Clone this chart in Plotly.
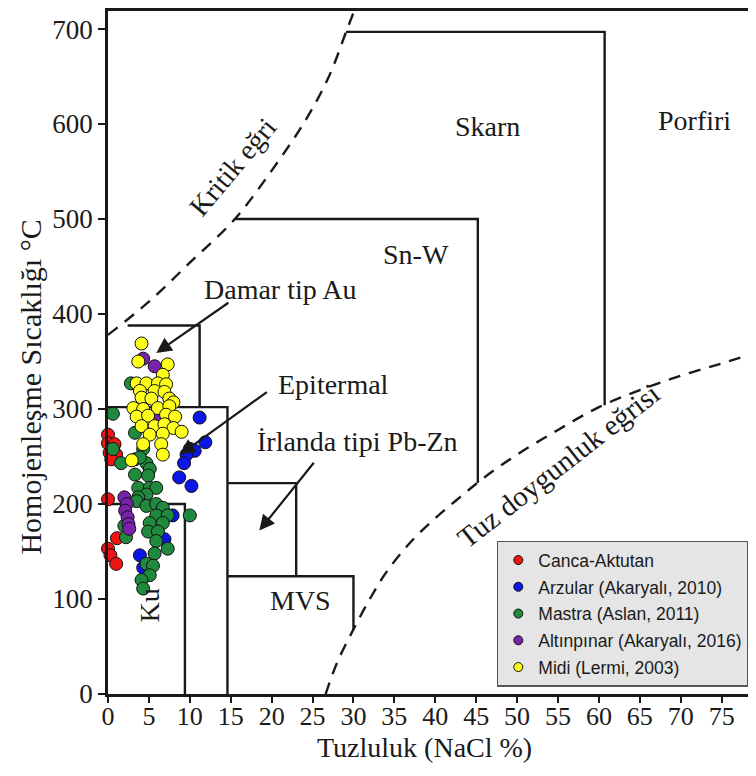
import plotly.graph_objects as go

# --- data (salinity wt% NaCl, homogenisation temperature C) ---
canca_x = [0.0, 0.0, 0.8, 0.2, 1.0, 0.4, 0.0, 1.1, 0.0, 0.3, 1.0]
canca_y = [273, 264, 263, 254, 252, 247, 205, 164, 153, 146, 137]

arzular_x = [11.2, 11.9, 10.0, 10.6, 9.6, 9.3, 8.7, 10.2, 7.9, 6.9, 3.9, 4.3]
arzular_y = [291, 265, 258, 256, 252, 243, 228, 219, 188, 163, 146, 133]

mastra_x = [0.6, 2.8, 0.6, 1.6, 3.3, 4.3, 3.3, 4.7, 5.1, 3.3, 4.9, 3.9, 3.7, 5.1, 5.9,
            4.7, 3.7, 3.5, 4.7, 5.9, 6.7, 5.9, 7.3, 10.0, 5.1, 6.7, 4.9, 6.1, 5.9, 7.3,
            5.7, 4.7, 5.5, 5.1, 4.1, 4.3, 2.0, 2.2]
mastra_y = [295, 327, 258, 243, 275, 258, 247, 243, 237, 231, 230, 249, 217, 217, 217,
            210, 207, 203, 198, 200, 196, 188, 188, 188, 180, 180, 171, 171, 161, 153,
            148, 137, 135, 125, 120, 111, 177, 165]

altin_x = [2.0, 2.3, 2.1, 2.4, 2.5, 2.6, 4.3, 5.7, 5.9]
altin_y = [207, 200, 193, 186, 179, 174, 353, 345, 292]

midi_x = [4.1, 3.7, 7.3, 6.7, 3.5, 4.7, 6.1, 7.1, 3.9, 5.7, 6.9, 4.1, 5.3, 7.5, 8.0,
          3.1, 4.3, 6.1, 7.5, 3.5, 4.9, 7.1, 8.2, 4.1, 5.7, 6.9, 8.0, 5.1, 6.7, 9.0,
          4.3, 6.5, 6.7, 2.9]
midi_y = [369, 350, 347, 336, 327, 327, 327, 326, 319, 319, 318, 312, 311, 311, 307,
          301, 300, 301, 303, 292, 293, 294, 292, 282, 282, 284, 280, 273, 274, 276,
          263, 263, 252, 246]

series_names = ["Canca-Aktutan", "Arzular (Akaryalı, 2010)", "Mastra (Aslan, 2011)",
                "Altınpınar (Akaryalı, 2016)", "Midi (Lermi, 2003)"]
series_colors = ["#ee1515", "#0b16e8", "#1f8a3d", "#7a22ae", "#ffff1a"]
series_x = [canca_x, arzular_x, mastra_x, altin_x, midi_x]
series_y = [canca_y, arzular_y, mastra_y, altin_y, midi_y]

# dashed reference curves
kritik_x = [0, 5, 10, 15.5, 20, 24, 27, 29.1, 30.3]
kritik_y = [378, 413, 454, 500, 551, 602, 650, 697, 724]
tuz_x = [26.6, 28, 30, 32, 34, 37, 40, 43, 46, 50, 55, 60, 65, 70, 75, 79.5]
tuz_y = [0, 33, 68, 100, 128, 160, 185, 207, 228, 252, 278, 302, 320, 335, 348, 360]

# field boundaries (polylines)
fields = {
    "Skarn": ([29.1, 60.7, 60.7], [697, 697, 304]),
    "Sn-W": ([15.5, 45.2, 45.2], [500, 500, 222]),
    "Damar": ([2.4, 11.2, 11.2], [388, 388, 302]),
    "Epitermal": ([0, 14.6, 14.6], [302, 302, 0]),
    "Ku": ([0, 9.4, 9.4], [200, 200, 0]),
    "Irlanda": ([14.6, 23.0, 23.0], [222, 222, 124]),
    "MVS": ([14.6, 30.0, 30.0], [124, 124, 68]),
}

x_ticks = list(range(0, 80, 5))
y_ticks = list(range(0, 800, 100))

SERIF = "Liberation Serif, Times New Roman, serif"
INK = "#1a1a1a"

fig = go.Figure()

for name, (fx, fy) in fields.items():
    fig.add_trace(go.Scatter(x=fx, y=fy, mode="lines", line=dict(color=INK, width=2.4),
                             showlegend=False, hoverinfo="skip", cliponaxis=False))

for cx, cy in [(kritik_x, kritik_y), (tuz_x, tuz_y)]:
    fig.add_trace(go.Scatter(x=cx, y=cy, mode="lines",
                             line=dict(color=INK, width=2.4, dash="12px,9px", shape="spline"),
                             showlegend=False, hoverinfo="skip"))

for name, col, sx, sy in zip(series_names, series_colors, series_x, series_y):
    fig.add_trace(go.Scatter(x=sx, y=sy, mode="markers", name=name, showlegend=False,
                             cliponaxis=False,
                             marker=dict(size=13, color=col, line=dict(color="#111", width=1))))

# legend-only entries with small symbols
for i, (name, col) in enumerate(zip(series_names, series_colors)):
    fig.add_trace(go.Scatter(x=[None], y=[None], mode="markers", name=name, legendgroup=str(i),
                             marker=dict(size=9, color=col, line=dict(color="#111", width=1))))

labels = [
    ("Skarn", 46.4, 597, 0, 28), ("Porfiri", 71.7, 604, 0, 28), ("Sn-W", 37.7, 463, 0, 28),
    ("Damar tip Au", 21.0, 426, 0, 28), ("Epitermal", 27.5, 326, 0, 28),
    ("İrlanda tipi Pb-Zn", 30.5, 266, 0, 28), ("MVS", 23.5, 98, 0, 28),
    ("Kritik eğri", 15.3, 555, -50, 28), ("Tuz doygunluk eğrisi", 55.0, 240, -38, 29),
    ("Ku", 5.1, 93, -90, 28),
]
for txt, lx, ly, ang, fs in labels:
    fig.add_annotation(x=lx, y=ly, text=txt, showarrow=False, textangle=ang,
                       font=dict(family=SERIF, size=fs, color=INK))

arrows = [((14.9, 413), (5.9, 359)), ((19.6, 319), (8.8, 252)), ((25.3, 245), (18.5, 172))]
for (tx, ty), (hx, hy) in arrows:
    fig.add_annotation(x=hx, y=hy, ax=tx, ay=ty, axref="x", ayref="y", text="",
                       showarrow=True, arrowhead=2, arrowsize=1.4, arrowwidth=2.2, arrowcolor=INK)

fig.add_annotation(text="Homojenleşme Sıcaklığı °C", xref="paper", yref="paper",
                   x=-0.120, y=0.449, xanchor="center", yanchor="middle",
                   textangle=-90, showarrow=False,
                   font=dict(family=SERIF, size=30, color=INK))
fig.add_annotation(text="Tuzluluk (NaCl %)", xref="paper", yref="paper",
                   x=0.489, y=-0.078, xanchor="center", yanchor="middle", showarrow=False,
                   font=dict(family=SERIF, size=28, color=INK))

fig.update_xaxes(range=[0, 79.2], tickvals=x_ticks, ticks="outside", ticklen=6, tickwidth=2,
                 tickcolor=INK, showline=True, linewidth=2.5, linecolor=INK, mirror=True,
                 showgrid=False, zeroline=False, ticklabelstandoff=-9,
                 tickfont=dict(family=SERIF, size=26, color=INK))
fig.update_yaxes(range=[0, 719], tickvals=y_ticks, ticks="outside", ticklen=7, tickwidth=2,
                 tickcolor=INK, showline=True, linewidth=2.5, linecolor=INK,
                 showgrid=False, zeroline=False,
                 tickfont=dict(family=SERIF, size=27, color=INK))

# page body keeps an 8px margin, so the figure is drawn 8px smaller and offset
fig.update_layout(
    width=748, height=768,
    margin=dict(l=100, r=0, t=0, b=82),
    paper_bgcolor="white", plot_bgcolor="white",
    legend=dict(x=0.6, y=0.2245, xanchor="left", yanchor="top",
                bgcolor="#e5e5e5", bordercolor="#555555", borderwidth=1.5,
                tracegroupgap=1, itemwidth=30,
                font=dict(family="Liberation Sans, Arial, sans-serif", size=17.5, color=INK)),
)

fig.write_html("out.html")
